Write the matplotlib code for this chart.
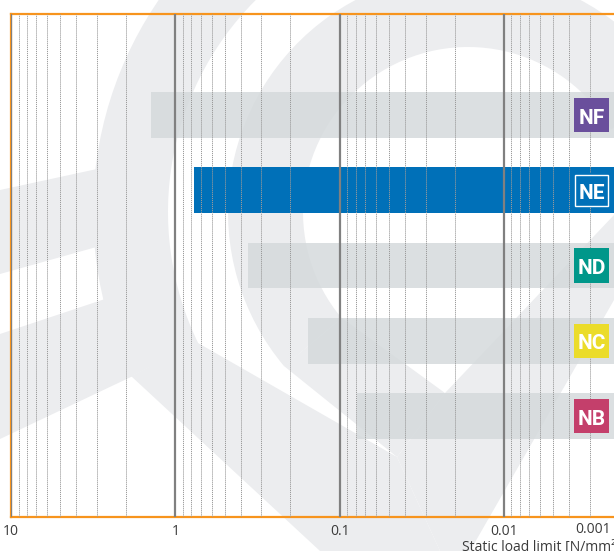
import matplotlib
matplotlib.use("Agg")
import matplotlib.pyplot as plt
import matplotlib.transforms as mtransforms
from matplotlib.patches import Rectangle, Wedge, Polygon
from matplotlib.ticker import LogLocator, NullFormatter

# data
grades = ['NF', 'NE', 'ND', 'NC', 'NB']
load_limit = [1.4, 0.77, 0.36, 0.155, 0.078]   # N/mm², bar starts here and runs to the right
badge_colors = ['#6A4F9C', '#0070B8', '#00978A', '#EBDC2A', '#C43F6B']
highlight = 'NE'
tick_values = [10, 1, 0.1, 0.01]
tick_labels = ['10', '1', '0.1', '0.01']

ORANGE = '#F7941D'
BAR_GREY = '#D5DADC'
BLUE = '#0070B8'
WM = '#ECEDEF'

plt.rcParams['font.family'] = ['Open Sans', 'DejaVu Sans']

fig = plt.figure(figsize=(6.14, 5.51), dpi=100)

# background watermark (pixel coordinates)
bg = fig.add_axes([0, 0, 1, 1], zorder=0)
bg.set_xlim(0, 614)
bg.set_ylim(551, 0)
bg.axis('off')
c = (468, 212)
bg.add_patch(Wedge(c, 375, 154, 300, width=75, color=WM, lw=0))
bg.add_patch(Wedge(c, 240, 140, 330, width=75, color=WM, lw=0))
bg.add_patch(Polygon([(131, 376), (198, 343), (397, 457), (440, 551), (320, 551)], color=WM, lw=0))
bg.add_patch(Polygon([(284, 366), (342, 318), (445, 393), (397, 457)], color=WM, lw=0))
bg.add_patch(Polygon([(445, 393), (614, 215), (614, 300), (470, 551), (440, 551), (397, 457)], color=WM, lw=0))
bg.add_patch(Polygon([(0, 190), (97, 169), (100, 246), (0, 274)], color=WM, lw=0))
bg.add_patch(Polygon([(0, 334), (105, 299), (133, 376), (0, 439)], color=WM, lw=0))

# main chart
ax = fig.add_axes([11 / 614, 34 / 551, 603 / 614, 503 / 551], zorder=1)
ax.patch.set_alpha(0)
ax.set_xscale('log')
ax.set_xlim(10, 0.00214)

ypos = list(range(len(grades) - 1, -1, -1))
ax.set_ylim(-1.342, 4 + 1.342)

for y, g, v in zip(ypos, grades, load_limit):
    col = BLUE if g == highlight else BAR_GREY
    alpha = 1 if g == highlight else 0.85
    ax.barh(y, v - 0.0005, left=0.0005, height=0.611, color=col, alpha=alpha, lw=0, zorder=1)

ax.set_axisbelow(False)
ax.xaxis.set_major_locator(LogLocator(base=10))
ax.xaxis.set_minor_locator(LogLocator(base=10, subs=range(2, 10)))
ax.xaxis.set_minor_formatter(NullFormatter())
ax.set_xticks(tick_values, tick_labels)
ax.grid(which='major', axis='x', color='#808080', lw=1.6)
ax.grid(which='minor', axis='x', color='#9a9a9a', lw=0.7, ls=(0, (1.2, 0.9)))
ax.set_yticks([])
ax.tick_params(axis='x', which='both', length=0, pad=5, labelsize=10, labelcolor='#3a3a3a')

for s in ['left', 'top', 'bottom']:
    ax.spines[s].set_color(ORANGE)
    ax.spines[s].set_linewidth(1.6)
ax.spines['right'].set_visible(False)

# badges at the right end of each bar
trans = mtransforms.blended_transform_factory(ax.transAxes, ax.transData)
bw, bh = 0.058, 0.452
bx = 0.9337
for y, g, col in zip(ypos, grades, badge_colors):
    ax.add_patch(Rectangle((bx, y - bh / 2), bw, bh, transform=trans, facecolor=col,
                           edgecolor='none', zorder=4, clip_on=False))
    if g == highlight:
        ax.add_patch(Rectangle((bx + 0.002, y - bh / 2 + 0.02), bw - 0.004, bh - 0.04,
                               transform=trans, facecolor='none', edgecolor='white',
                               lw=1.0, zorder=5, clip_on=False))
    ax.text(bx + bw / 2, y - 0.04, g, transform=trans, ha='center', va='center',
            color='white', fontsize=15, fontweight='bold', family=['Roboto', 'DejaVu Sans'],
            zorder=6)

# last label sits at the cut-off right edge
ax.text(0.965, -0.024, '0.001', transform=ax.transAxes, ha='center', va='center',
        fontsize=10, color='#3a3a3a')
fig.text(462 / 614, 1 - 540 / 551, 'Static load limit [N/mm²]', ha='left', va='top',
         fontsize=10, color='#3a3a3a')

fig.savefig('out.png', dpi=100)
